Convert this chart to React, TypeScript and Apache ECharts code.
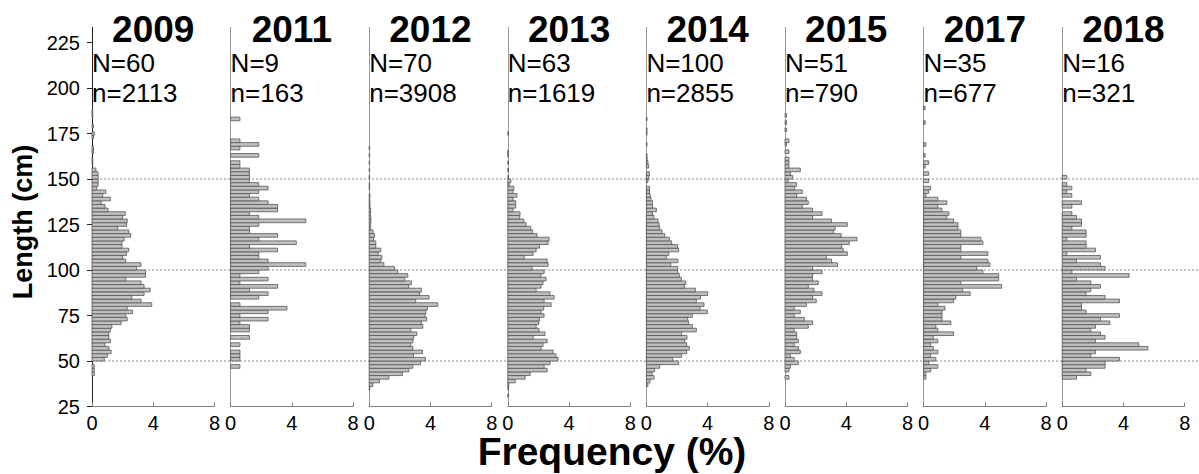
import React, { useEffect, useRef } from 'react';
import * as echarts from 'echarts';

// ---------- data ----------
const years = ['2009', '2011', '2012', '2013', '2014', '2015', '2017', '2018'];
const fishCounts = [60, 9, 70, 63, 100, 51, 35, 16];
const sampleSizes = [2113, 163, 3908, 1619, 2855, 790, 677, 321];
const yTicks = [25, 50, 75, 100, 125, 150, 175, 200, 225];
const refLines = [50, 100, 150];

// [length bin centre (cm), frequency (%)], 2 cm bins
const freq2009 = [[43,0.15],[45,0.15],[47,0.15],[51,0.8],[53,1.0],[55,1.25],[57,1.1],[59,0.85],[61,1.2],[63,1.1],[65,1.1],[67,1.2],[69,1.3],[71,1.9],[73,2.3],[75,2.2],[77,2.65],[79,2.3],[81,3.9],[83,3.2],[85,2.6],[87,3.4],[89,3.8],[91,3.4],[93,3.2],[95,2.2],[97,3.5],[99,3.5],[101,2.9],[103,3.2],[105,2.2],[107,2.0],[109,2.26],[111,2.4],[113,1.96],[115,1.96],[117,2.1],[119,2.53],[121,2.4],[123,1.68],[125,2.26],[127,2.3],[129,2.0],[131,2.17],[133,1.05],[135,0.85],[137,0.6],[139,1.2],[141,0.7],[143,0.9],[145,0.3],[147,0.4],[149,0.4],[151,0.4],[153,0.4],[155,0.26],[159,0.05],[161,0.05],[165,0.1],[167,0.1],[173,0.1],[175,0.15],[179,0.1],[185,0.05],[187,0.05]];
const freq2011 = [[47,0.61],[51,0.61],[53,0.61],[55,0.61],[59,0.61],[63,1.23],[67,1.23],[69,1.23],[71,0.61],[73,2.45],[75,0.61],[77,2.45],[79,3.68],[81,0.61],[85,1.84],[87,2.45],[89,1.23],[91,3.07],[93,0.61],[95,2.45],[97,0.61],[99,1.84],[101,2.45],[103,4.91],[105,2.45],[107,1.84],[109,1.84],[111,3.07],[113,1.23],[115,4.29],[117,1.84],[119,3.07],[121,1.23],[123,1.23],[125,1.84],[127,4.91],[129,1.84],[131,1.23],[133,3.07],[135,3.07],[137,2.45],[139,1.84],[141,1.23],[143,1.84],[145,2.45],[147,1.84],[149,1.23],[151,1.23],[153,1.23],[155,1.23],[157,0.61],[159,0.61],[163,1.84],[167,0.61],[169,1.84],[171,0.61],[183,0.61]];
const freq2012 = [[35,0.04],[37,0.24],[39,0.67],[41,1.28],[43,2.17],[45,2.59],[47,2.85],[49,3.35],[51,3.67],[53,2.89],[55,3.48],[57,2.85],[59,2.72],[61,2.85],[63,2.91],[65,3.11],[67,2.72],[69,3.5],[71,3.41],[73,3.76],[75,3.65],[77,3.7],[79,3.8],[81,4.48],[83,3.04],[85,3.91],[87,3.3],[89,3.41],[91,2.59],[93,2.76],[95,2.33],[97,2.52],[99,1.87],[101,1.65],[103,0.96],[105,0.76],[107,0.83],[109,0.59],[111,0.76],[113,0.43],[115,0.43],[117,0.28],[119,0.35],[121,0.25],[123,0.1],[125,0.08],[127,0.12],[129,0.1],[131,0.08],[133,0.1],[135,0.05],[137,0.05],[139,0.03],[141,0.05],[145,0.03],[147,0.03],[151,0.03],[155,0.03],[159,0.03],[163,0.03],[167,0.03]];
const freq2013 = [[31,0.03],[35,0.05],[37,0.07],[39,0.48],[41,1.13],[43,1.46],[45,2.57],[47,2.37],[49,2.76],[51,3.28],[53,3.15],[55,2.96],[57,2.17],[59,2.3],[61,2.57],[63,1.65],[65,2.43],[67,2.04],[69,1.85],[71,2.02],[73,2.07],[75,2.37],[77,2.17],[79,2.35],[81,2.83],[83,2.37],[85,3.02],[87,2.76],[89,1.85],[91,2.17],[93,2.3],[95,2.5],[97,2.17],[99,2.37],[101,1.59],[103,2.63],[105,2.57],[107,1.07],[109,1.65],[111,1.85],[113,2.07],[115,2.63],[117,2.7],[119,1.91],[121,1.63],[123,1.5],[125,1.2],[127,1.04],[129,0.78],[131,0.8],[133,0.35],[135,0.52],[137,0.52],[139,0.35],[141,0.6],[143,0.35],[145,0.4],[147,0.1],[149,0.2],[151,0.05],[155,0.03],[159,0.03],[163,0.03],[165,0.03],[175,0.03]];
const freq2014 = [[37,0.1],[39,0.24],[41,0.5],[43,0.37],[45,0.54],[47,0.87],[49,2.11],[51,1.72],[53,2.3],[55,2.63],[57,2.8],[59,2.63],[61,2.5],[63,2.65],[65,2.3],[67,3.26],[69,3.0],[71,2.76],[73,2.7],[75,3.0],[77,3.98],[79,3.5],[81,3.76],[83,3.26],[85,3.54],[87,4.0],[89,3.2],[91,2.48],[93,2.57],[95,2.28],[97,2.15],[99,2.04],[101,2.04],[103,1.59],[105,2.06],[107,1.3],[109,1.46],[111,2.11],[113,2.04],[115,1.65],[117,1.5],[119,1.2],[121,1.02],[123,0.87],[125,0.83],[127,0.75],[129,0.5],[131,0.4],[133,0.65],[135,0.4],[137,0.4],[139,0.3],[141,0.25],[143,0.2],[145,0.2],[149,0.1],[151,0.15],[153,0.2],[157,0.15],[159,0.1],[161,0.05],[163,0.04],[169,0.04],[175,0.04],[177,0.04],[183,0.04]];
const freq2015 = [[41,0.26],[45,0.26],[47,0.35],[49,0.87],[51,0.6],[53,0.35],[55,1.0],[57,0.87],[59,0.6],[61,0.87],[63,0.76],[65,0.76],[67,0.6],[69,1.52],[71,1.8],[73,1.26],[75,0.6],[77,1.0],[79,0.6],[81,1.4],[83,2.04],[85,1.8],[87,2.42],[89,1.9],[91,1.52],[93,2.17],[95,1.8],[97,1.8],[99,2.42],[101,1.8],[103,3.43],[105,3.04],[107,2.7],[109,4.07],[111,3.8],[113,3.7],[115,4.2],[117,4.7],[119,3.67],[121,3.17],[123,3.28],[125,4.07],[127,3.04],[129,1.8],[131,2.42],[133,1.8],[135,1.13],[137,1.52],[139,1.4],[141,0.76],[143,1.13],[145,0.63],[147,0.76],[149,0.2],[151,0.5],[153,0.35],[155,1.0],[157,0.26],[159,0.26],[161,0.26],[165,0.26],[169,0.1],[171,0.26],[177,0.1],[181,0.1],[185,0.1]];
const freq2017 = [[41,0.15],[43,0.15],[45,0.46],[47,0.93],[49,0.33],[51,0.8],[53,0.46],[55,0.93],[57,0.63],[59,0.46],[61,0.93],[63,0.63],[65,1.96],[67,0.93],[69,0.8],[71,1.78],[73,1.2],[75,1.2],[77,1.2],[79,1.4],[81,0.93],[83,1.96],[85,2.11],[87,3.04],[89,2.55],[91,5.1],[93,2.43],[95,4.9],[97,4.9],[99,3.87],[101,3.48],[103,4.33],[105,4.2],[107,2.43],[109,4.2],[111,2.43],[113,2.43],[115,3.87],[117,3.74],[119,2.43],[121,2.43],[123,2.24],[125,2.24],[127,1.96],[129,1.52],[131,1.65],[133,1.2],[135,0.93],[137,1.52],[139,0.93],[141,0.15],[143,0.33],[145,0.46],[149,0.33],[153,0.33],[157,0.1],[159,0.33],[163,0.1],[169,0.15],[181,0.1],[189,0.1]];
const freq2018 = [[41,0.93],[43,1.87],[45,1.56],[47,2.8],[49,2.8],[51,3.74],[53,1.87],[55,2.17],[57,5.6],[59,5.0],[61,2.17],[63,2.8],[65,2.5],[67,1.87],[69,2.17],[71,3.11],[73,2.5],[75,3.74],[77,1.56],[79,1.26],[81,1.26],[83,3.74],[85,2.8],[87,1.56],[89,1.87],[91,2.5],[93,1.87],[95,0.93],[97,4.37],[99,0.63],[101,2.8],[103,2.5],[105,0.93],[107,2.5],[109,0.3],[111,2.17],[113,1.56],[115,1.56],[117,0.3],[119,1.56],[121,1.56],[123,0.63],[125,1.26],[127,1.26],[129,0.93],[131,0.63],[135,0.63],[137,1.26],[141,0.63],[143,0.3],[145,0.63],[147,0.3],[151,0.3]];
const freqByYear = [freq2009, freq2011, freq2012, freq2013, freq2014, freq2015, freq2017, freq2018];

// ---------- layout ----------
const FONT = '"Liberation Sans", Arial, Helvetica, sans-serif';
const PANEL_X0 = 92;
const PANEL_STEP = 138.6;
const PANEL_W = 122.5;
const TOP = 27.5;
const HEIGHT = 379;
const Y_MIN = 25;
const Y_MAX = 25 + 379 / 1.82;
const BIN = 2;

export default function App() {
  const ref = useRef<HTMLDivElement>(null);
  useEffect(() => {
    if (!ref.current) return;
    const chart = echarts.init(ref.current, undefined, { renderer: 'svg' });
    const grids: any[] = [];
    const xAxes: any[] = [];
    const yAxes: any[] = [];
    const series: any[] = [];
    const graphics: any[] = [];

    years.forEach((yr, i) => {
      const left = PANEL_X0 + i * PANEL_STEP;
      grids.push({ left, top: TOP, width: PANEL_W, height: HEIGHT });
      xAxes.push({
        type: 'value', gridIndex: i, min: 0, max: 8, interval: 4,
        axisLine: { show: true, lineStyle: { color: '#808080', width: 1 } },
        axisTick: { show: true, inside: true, length: 4, lineStyle: { color: '#808080' } },
        axisLabel: { fontSize: 20, color: '#000', margin: 6, fontFamily: FONT },
        splitLine: { show: false },
      });
      const first = i === 0;
      yAxes.push({
        type: 'value', gridIndex: i, min: Y_MIN, max: Y_MAX,
        axisLine: { show: true, lineStyle: { color: first ? '#222' : '#999', width: 1 } },
        axisTick: { show: first, inside: false, length: 5, customValues: yTicks, lineStyle: { color: '#222' } },
        axisLabel: { show: first, customValues: yTicks, fontSize: 20, color: '#000', margin: 12, fontFamily: FONT },
        splitLine: { show: false },
      });
      series.push({
        type: 'custom', xAxisIndex: i, yAxisIndex: i, z: 5,
        data: freqByYear[i].map(([len, f]) => [f, len]),
        encode: { x: 0, y: 1 },
        renderItem: (params: any, api: any) => {
          const v = api.value(0);
          const len = api.value(1);
          const p0 = api.coord([0, len + BIN / 2]);
          const p1 = api.coord([v, len - BIN / 2]);
          return {
            type: 'rect',
            shape: { x: p0[0], y: p0[1], width: p1[0] - p0[0], height: p1[1] - p0[1] },
            style: { fill: '#c0c0c0', stroke: '#555', lineWidth: 0.8 },
          };
        },
      });
      graphics.push({
        type: 'text', x: left + PANEL_W / 2, y: 29,
        style: { text: yr, fontSize: 37, fontWeight: 'bold', fontFamily: FONT, fill: '#000', align: 'center', verticalAlign: 'middle' },
      });
      graphics.push({
        type: 'text', x: left, y: 63,
        style: { text: 'N=' + fishCounts[i], fontSize: 26, fontFamily: FONT, fill: '#000', align: 'left', verticalAlign: 'middle' },
      });
      graphics.push({
        type: 'text', x: left, y: 92.5,
        style: { text: 'n=' + sampleSizes[i], fontSize: 26, fontFamily: FONT, fill: '#000', align: 'left', verticalAlign: 'middle' },
      });
    });

    // full-width grid for dotted reference lines
    const gi = years.length;
    grids.push({ left: PANEL_X0, right: 0, top: TOP, height: HEIGHT });
    xAxes.push({ type: 'value', gridIndex: gi, min: 0, max: 1, show: false });
    yAxes.push({ type: 'value', gridIndex: gi, min: Y_MIN, max: Y_MAX, show: false });
    series.unshift({
      type: 'custom', xAxisIndex: gi, yAxisIndex: gi, z: 1,
      data: refLines.map((v) => [0, v]),
      encode: { x: 0, y: 1 },
      renderItem: (params: any, api: any) => {
        const v = api.value(1);
        const a = api.coord([0, v]);
        const b = api.coord([1, v]);
        return {
          type: 'line',
          shape: { x1: a[0], y1: a[1], x2: b[0], y2: b[1] },
          style: { stroke: '#888', lineWidth: 1, lineDash: [2, 2] },
        };
      },
    });

    graphics.push({
      type: 'text', x: 23, y: 222, rotation: Math.PI / 2,
      style: { text: 'Length (cm)', fontSize: 27, fontWeight: 'bold', fontFamily: FONT, fill: '#000', align: 'center', verticalAlign: 'middle' },
    });
    graphics.push({
      type: 'text', x: 612, y: 451,
      style: { text: 'Frequency (%)', fontSize: 39, fontWeight: 'bold', fontFamily: FONT, fill: '#000', align: 'center', verticalAlign: 'middle' },
    });

    chart.setOption({
      animation: false,
      backgroundColor: '#fff',
      grid: grids,
      xAxis: xAxes,
      yAxis: yAxes,
      series,
      graphic: graphics,
    });
    return () => chart.dispose();
  }, []);
  return <div ref={ref} style={{ position: 'fixed', left: 0, top: 0, width: 1199, height: 474, background: '#fff' }} />;
}
